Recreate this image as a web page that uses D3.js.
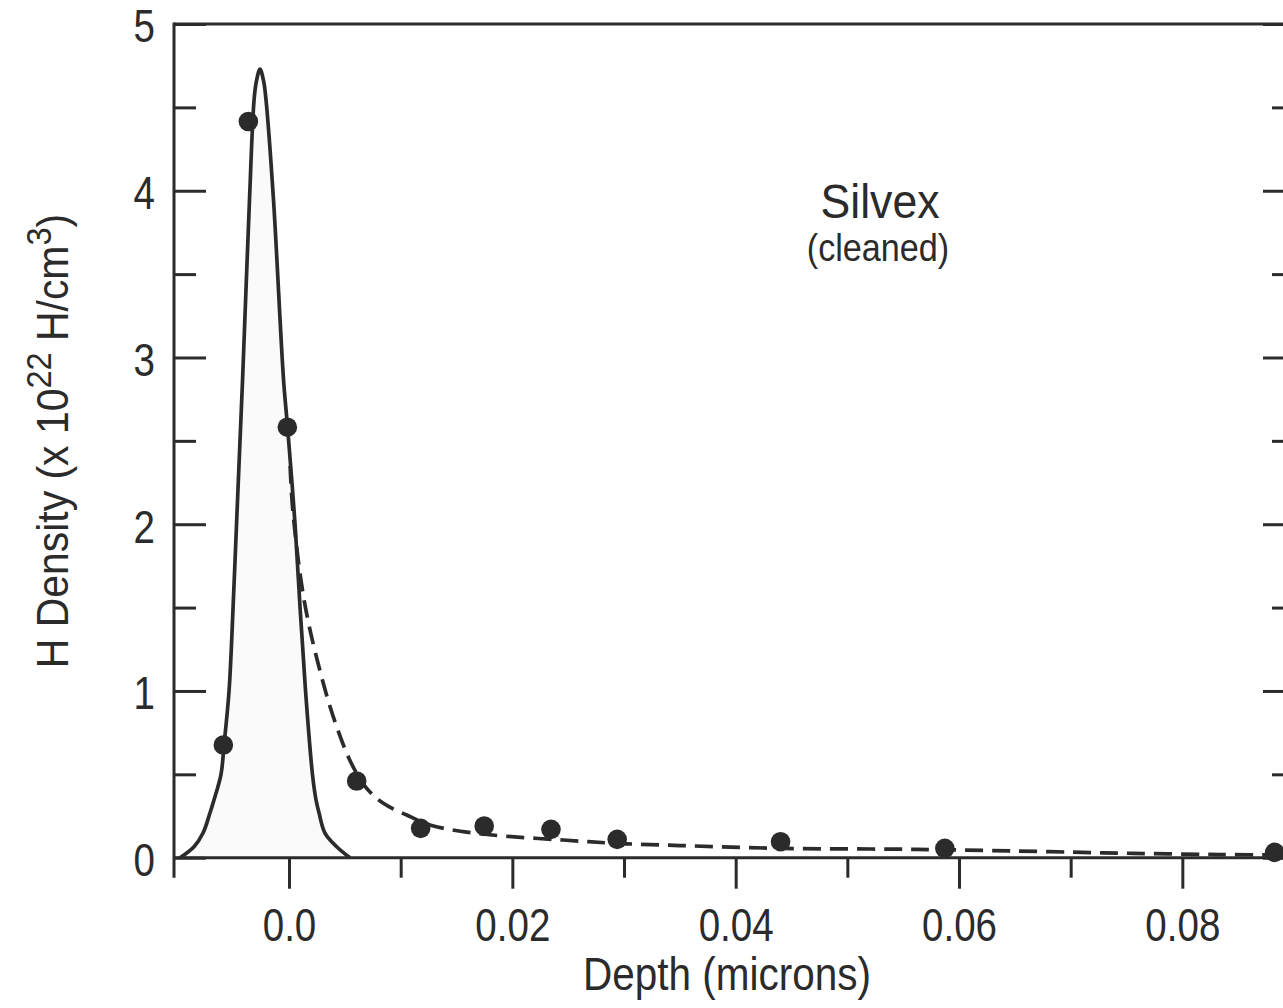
<!DOCTYPE html>
<html>
<head>
<meta charset="utf-8">
<script src="https://cdn.jsdelivr.net/npm/d3@7"></script>
<style>
  html, body { margin: 0; padding: 0; background: #fff; }
  svg { display: block; }
  text { font-family: "Liberation Sans", Arial, sans-serif; fill: #2b2b2b; }
</style>
</head>
<body>
<div id="container"></div>
<script>
// measured points (depth in microns, H density x 1e22)
const pointDepth   = [-0.00588, -0.00364, -0.00015, 0.00606, 0.01179, 0.01748, 0.02346, 0.02939, 0.04402, 0.05873, 0.08827];
const pointDensity = [0.676, 4.415, 2.582, 0.46, 0.176, 0.19, 0.17, 0.11, 0.096, 0.056, 0.032];

// solid peak curve
const peakDepth   = [-0.00976, -0.00851, -0.0077, -0.00708, -0.00672, -0.00609, -0.00582, -0.00537, -0.00501, -0.0047, -0.00439, -0.00416, -0.00354, -0.00313, -0.00291, -0.0026,
                     -0.00228, -0.00206, -0.00139, -0.00049, -0.00013, 0.00054, 0.00099, 0.00148, 0.0021, 0.00242, 0.00269, 0.00322, 0.00427, 0.00546];
const peakDensity = [0, 0.066, 0.148, 0.268, 0.346, 0.5, 0.676, 1.0, 1.5, 2.0, 2.5, 2.866, 3.945, 4.545, 4.66, 4.73,
                     4.66, 4.545, 3.945, 2.866, 2.582, 2.0, 1.5, 1.0, 0.5, 0.346, 0.268, 0.148, 0.066, 0];

// dashed tail curve
const tailDepth   = [0.0001, 0.00036, 0.00143, 0.00307, 0.00427, 0.00561, 0.00696, 0.00845, 0.01054, 0.01262, 0.01561, 0.01919, 0.02456, 0.02934, 0.035, 0.04422, 0.0562, 0.06813, 0.07556, 0.08335, 0.09];
const tailDensity = [2.35, 2.068, 1.516, 1.046, 0.786, 0.562, 0.416, 0.326, 0.256, 0.196, 0.156, 0.13, 0.106, 0.086, 0.073, 0.056, 0.05, 0.036, 0.026, 0.019, 0.016];

const xMajorTicks = [0, 0.02, 0.04, 0.06, 0.08];
const xTickLabels = ["0.0", "0.02", "0.04", "0.06", "0.08"];
const xMinorTicks = [0.01, 0.03, 0.05, 0.07];
const yMajorTicks = [0, 1, 2, 3, 4, 5];
const yMinorTicks = [0.5, 1.5, 2.5, 3.5, 4.5];

const width = 1283;
const height = 1008;
const margin = { top: 24, left: 174 };
const plotRight = 1294;
const plotBottom = 857.7;
const ink = "#2b2b2b";

const svg = d3.select("#container")
    .append("svg")
    .attr("width", width)
    .attr("height", height);

const x = d3.scaleLinear()
    .domain([-0.0103, 0.09])
    .range([margin.left, plotRight]);

const y = d3.scaleLinear()
    .domain([0, 5])
    .range([plotBottom, margin.top]);

const peak = peakDepth.map((d, i) => [d, peakDensity[i]]);
const tail = tailDepth.map((d, i) => [d, tailDensity[i]]);
const points = pointDepth.map((d, i) => [d, pointDensity[i]]);

// faint shading under the peak
svg.append("path")
    .datum(peak)
    .attr("fill", "#fafafa")
    .attr("d", d3.area()
        .curve(d3.curveCatmullRom.alpha(0.5))
        .x(d => x(d[0]))
        .y0(y(0))
        .y1(d => y(d[1])));

svg.append("path")
    .datum(peak)
    .attr("fill", "none")
    .attr("stroke", ink)
    .attr("stroke-width", 3.7)
    .attr("d", d3.line()
        .curve(d3.curveCatmullRom.alpha(0.5))
        .x(d => x(d[0]))
        .y(d => y(d[1])));

svg.append("path")
    .datum(tail)
    .attr("fill", "none")
    .attr("stroke", ink)
    .attr("stroke-width", 3.7)
    .attr("stroke-dasharray", "18,9")
    .attr("d", d3.line()
        .curve(d3.curveCatmullRom.alpha(0.5))
        .x(d => x(d[0]))
        .y(d => y(d[1])));

// squeeze Arial-like glyphs towards the condensed face of the original
function condense(sel, k) {
    sel.each(function() {
        const t = d3.select(this);
        const tx = +t.attr("x") || 0, ty = +t.attr("y") || 0;
        t.attr("x", 0).attr("y", 0)
         .attr("transform", `translate(${tx},${ty}) scale(${k},1)`);
    });
}

function xAxis(g, ticks, size, labels) {
    g.attr("transform", `translate(0,${plotBottom})`)
      .call(d3.axisBottom(x).tickValues(ticks).tickSize(size).tickPadding(19)
        .tickFormat(labels ? (d, i) => labels[i] : ""))
      .call(g => g.select(".domain").remove())
      .call(g => g.selectAll("line").attr("stroke", ink).attr("stroke-width", 3))
      .call(g => g.selectAll("text").attr("font-size", 47).attr("fill", ink).style("font-family", null).call(condense, 0.82));
}

function yAxis(g, ticks, size, labels, right) {
    const ax = right ? d3.axisRight(y) : d3.axisLeft(y);
    g.attr("transform", `translate(${right ? plotRight : margin.left},0)`)
      .call(ax.tickValues(ticks).tickSize(-size).tickPadding(19)
        .tickFormat(labels ? d => d : ""))
      .call(g => g.select(".domain").remove())
      .call(g => g.selectAll("line").attr("stroke", ink).attr("stroke-width", 3))
      .call(g => g.selectAll("text").attr("font-size", 47).attr("dy", "0.38em").attr("fill", ink).style("font-family", null).call(condense, 0.82));
}

svg.append("g").call(xAxis, xMajorTicks, 31, xTickLabels);
svg.append("g").call(xAxis, xMinorTicks, 20, null);
svg.append("g").call(yAxis, yMajorTicks, 32, true, false);
svg.append("g").call(yAxis, yMinorTicks, 22, false, false);
svg.append("g").call(yAxis, yMajorTicks, 31, false, true);
svg.append("g").call(yAxis, yMinorTicks, 22, false, true);

// frame
const frame = svg.append("g").attr("stroke", ink).attr("stroke-width", 3).attr("fill", "none");
frame.append("line").attr("x1", margin.left).attr("x2", margin.left).attr("y1", margin.top - 1.5).attr("y2", plotBottom + 20);
frame.append("line").attr("x1", margin.left).attr("x2", plotRight).attr("y1", margin.top).attr("y2", margin.top);
frame.append("line").attr("x1", margin.left).attr("x2", plotRight).attr("y1", plotBottom).attr("y2", plotBottom);
frame.append("line").attr("x1", plotRight).attr("x2", plotRight).attr("y1", margin.top).attr("y2", plotBottom);

// data points
svg.append("g")
    .attr("fill", ink)
    .selectAll("circle")
    .data(points)
    .join("circle")
      .attr("cx", d => x(d[0]))
      .attr("cy", d => y(d[1]))
      .attr("r", 9.8);

// titles
svg.append("text")
    .attr("transform", "translate(727,990) scale(0.88,1)")
    .attr("text-anchor", "middle")
    .attr("font-size", 46)
    .text("Depth (microns)");

const yt = svg.append("text")
    .attr("transform", "translate(68,441) rotate(-90) scale(0.93,1)")
    .attr("text-anchor", "middle")
    .attr("font-size", 44);
yt.append("tspan").text("H Density (x 10");
yt.append("tspan").attr("font-size", 35).attr("dy", -17).text("22");
yt.append("tspan").attr("dy", 17).text(" H/cm");
yt.append("tspan").attr("font-size", 35).attr("dy", -17).text("3");
yt.append("tspan").attr("dy", 17).text(")");

svg.append("text")
    .attr("transform", "translate(880,218) scale(0.93,1)")
    .attr("text-anchor", "middle")
    .attr("font-size", 48)
    .text("Silvex");

svg.append("text")
    .attr("transform", "translate(878,261) scale(0.9,1)")
    .attr("text-anchor", "middle")
    .attr("font-size", 38)
    .text("(cleaned)");
</script>
</body>
</html>
